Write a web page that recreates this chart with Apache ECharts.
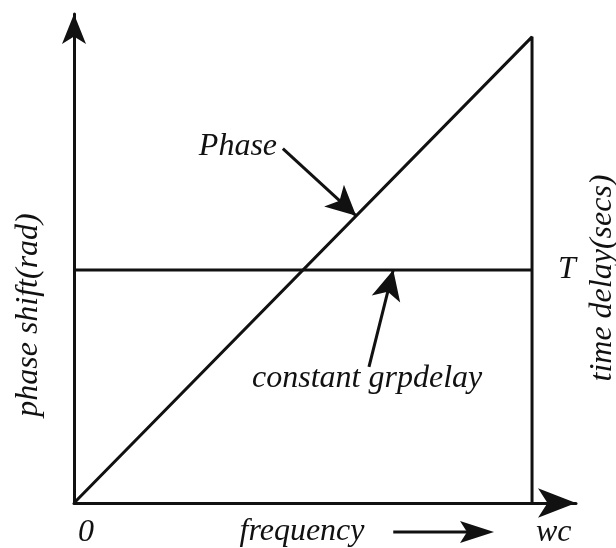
<!DOCTYPE html>
<html>
<head>
<meta charset="utf-8">
<script src="https://cdn.jsdelivr.net/npm/echarts@6/dist/echarts.min.js"></script>
<style>
  html, body { margin: 0; padding: 0; background: #fff; }
  #main { width: 616px; height: 548px; }
</style>
</head>
<body>
<div id="main"></div>
<script>
// normalised frequency (wc = 1) and the two curves
const phaseFreq = [0, 1, 1]
const phaseVal = [0, 1, 0]
const delayFreq = [0, 1]
const delayVal = [0.5, 0.5]
const xTickValues = [0, 1]
const xTickNames = ['0', 'wc']
// annotation arrows, [tailX, tailY, tipX, tipY] in data units
const phaseArrow = [0.456, 0.76, 0.616, 0.616]
const delayArrow = [0.644, 0.292, 0.697, 0.5]
const phaseText = [0.358, 0.764]
const delayText = [0.64, 0.266]

const FONT = '"Liberation Serif", "Times New Roman", serif'
const FS = 32
const ink = '#111'
const chart = echarts.init(document.getElementById('main'))

const arrow = (a) => [{ coord: [a[0], a[1]] }, { coord: [a[2], a[3]] }]

const option = {
  animation: false,
  grid: { left: 74, right: 40, top: 14, bottom: 45, outerBoundsMode: 'none', containLabel: false },
  xAxis: {
    type: 'value',
    min: 0,
    max: 1.096,
    axisLine: {
      lineStyle: { color: ink, width: 3 },
      symbol: ['none', 'arrow'],
      symbolSize: [22, 38]
    },
    axisTick: { show: false },
    splitLine: { show: false },
    axisLabel: {
      customValues: xTickValues,
      formatter: (v) => xTickNames[xTickValues.indexOf(v)],
      fontFamily: FONT, fontStyle: 'italic', fontSize: FS, color: ink,
      align: 'left', margin: 14, padding: [0, 0, 0, 4]
    }
  },
  yAxis: {
    type: 'value',
    min: 0,
    max: 1.049,
    axisLine: {
      show: true,
      lineStyle: { color: ink, width: 3 },
      symbol: ['none', 'arrow'],
      symbolSize: [18, 30]
    },
    axisTick: { show: false },
    axisLabel: { show: false },
    splitLine: { show: false }
  },
  series: [
    {
      name: 'Phase',
      type: 'line',
      data: phaseFreq.map((f, i) => [f, phaseVal[i]]),
      symbol: 'none',
      lineStyle: { color: ink, width: 3 },
      markLine: {
        silent: true,
        symbol: ['none', 'arrow'],
        symbolSize: [22, 30],
        label: { show: false },
        lineStyle: { color: ink, width: 3, type: 'solid' },
        data: [arrow(phaseArrow), arrow(delayArrow)]
      },
      markPoint: {
        silent: true,
        symbolSize: 0,
        label: {
          show: true,
          fontFamily: FONT, fontStyle: 'italic', fontSize: FS, color: ink,
          formatter: (p) => p.name
        },
        data: [
          { name: 'Phase', coord: phaseText },
          { name: 'constant grpdelay', coord: delayText }
        ]
      }
    },
    {
      name: 'constant grpdelay',
      type: 'line',
      data: delayFreq.map((f, i) => [f, delayVal[i]]),
      symbol: 'none',
      lineStyle: { color: ink, width: 3 },
      endLabel: {
        show: true,
        formatter: 'T',
        distance: 26,
        fontFamily: FONT, fontStyle: 'italic', fontSize: FS, color: ink
      }
    }
  ]
}
chart.setOption(option)

// axis titles and the small arrow after "frequency"
const ax0 = chart.convertToPixel({ xAxisIndex: 0 }, 0.697)
const ax1 = chart.convertToPixel({ xAxisIndex: 0 }, 0.917)
const ay = 532
const textStyle = (text) => ({
  text, fontFamily: FONT, fontStyle: 'italic', fontSize: FS, fill: ink,
  align: 'center', verticalAlign: 'middle'
})
chart.setOption({
  graphic: [
    { type: 'text', x: 29, y: 315, rotation: Math.PI / 2, style: textStyle('phase shift(rad)') },
    { type: 'text', x: 603, y: 278, rotation: Math.PI / 2, style: textStyle('time delay(secs)') },
    { type: 'text', x: 302, y: 532, style: textStyle('frequency') },
    {
      type: 'line',
      shape: { x1: ax0, y1: ay, x2: ax1 - 20, y2: ay },
      style: { stroke: ink, lineWidth: 3 }
    },
    {
      type: 'polygon',
      shape: { points: [[ax1, ay], [ax1 - 34, ay - 11], [ax1 - 27, ay], [ax1 - 34, ay + 11]] },
      style: { fill: ink }
    }
  ]
})
</script>
</body>
</html>
